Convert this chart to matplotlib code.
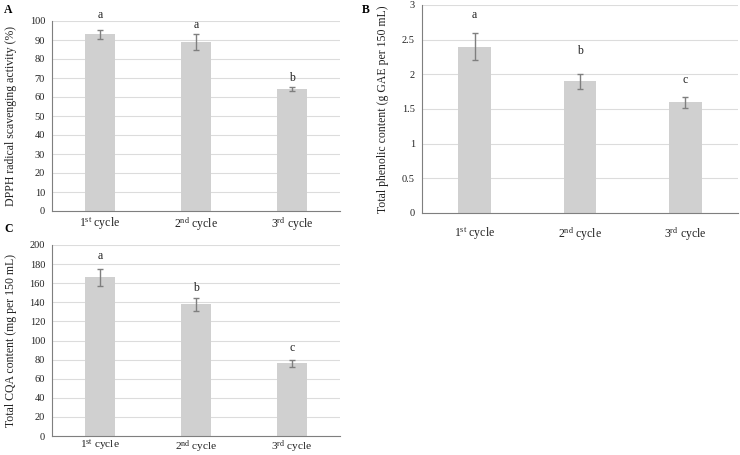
import matplotlib
matplotlib.use("Agg")
import matplotlib.pyplot as plt
import numpy as np

plt.rcParams['font.family'] = ['Liberation Serif', 'DejaVu Serif']
plt.rcParams['mathtext.fontset'] = 'custom'
plt.rcParams['mathtext.rm'] = 'Liberation Serif'
plt.rcParams['mathtext.it'] = 'Liberation Serif:italic'
plt.rcParams['mathtext.bf'] = 'Liberation Serif:bold'

cycles_num = ["1", "2", "3"]
cycles_sup = ["st", "nd", "rd"]
x_labels = [rf"{n}$^{{\mathrm{{{s}}}}}$ cycle" for n, s in zip(cycles_num, cycles_sup)]

dpph = [93, 89, 64]
dpph_err = [2.5, 4, 1]
dpph_letters = ["a", "a", "b"]
dpph_letter_y = [103, 98, 70]

phen = [2.4, 1.9, 1.6]
phen_err = [0.2, 0.11, 0.08]
phen_letters = ["a", "b", "c"]
phen_letter_y = [2.86, 2.33, 1.92]

cqa = [166, 138, 76]
cqa_err = [8.5, 7, 3.5]
cqa_letters = ["a", "b", "c"]
cqa_letter_y = [189, 155, 92]

W, H = 740, 455
fig = plt.figure(figsize=(W/100, H/100), dpi=100)

def px_axes(l, t, r, b):
    return fig.add_axes([l/W, 1 - b/H, (r-l)/W, (b-t)/H])

def panel(ax, vals, errs, letters, letter_y, ymax, ystep, ylabel, fmt, xpad, xsize):
    x = np.arange(len(vals))
    ax.bar(x, vals, width=0.31, color='#d0d0d0', zorder=2)
    ax.errorbar(x, vals, yerr=errs, fmt='none', ecolor='#7f7f7f', elinewidth=1,
                capsize=2.5, capthick=1, zorder=3)
    for xi, l, ly in zip(x, letters, letter_y):
        ax.text(xi, ly, l, ha='center', va='center', fontsize=8.5, color='#222222')
    ax.set_xlim(-0.5, len(vals) - 0.5)
    ax.set_ylim(0, ymax)
    ticks = np.arange(0, ymax + ystep/2, ystep)
    ax.set_yticks(ticks)
    ax.set_yticklabels([fmt(t) for t in ticks])
    ax.set_xticks(x)
    ax.set_xticklabels(x_labels)
    ax.tick_params(axis='y', length=0, labelsize=7.5, colors='#222222', pad=5)
    ax.tick_params(axis='x', length=0, labelsize=xsize, colors='#222222', pad=xpad)
    ax.grid(axis='y', color='#dcdcdc', linewidth=0.8, zorder=0)
    ax.set_axisbelow(True)
    for s in ['top', 'right']:
        ax.spines[s].set_visible(False)
    ax.spines['left'].set_color('#7f7f7f')
    ax.spines['bottom'].set_color('#7f7f7f')
    ax.set_ylabel(ylabel, fontsize=8.5, color='#222222')

axA = px_axes(52, 21, 340, 211)
panel(axA, dpph, dpph_err, dpph_letters, dpph_letter_y, 100, 10,
      "DPPH radical scavenging activity (%)", lambda t: f"{int(t)}", 3, 8.5)
axA.yaxis.set_label_coords(-0.12, 0.5)

axB = px_axes(422, 5, 738, 213)
panel(axB, phen, phen_err, phen_letters, phen_letter_y, 3, 0.5,
      "Total phenolic content (g GAE per 150 mL)", lambda t: f"{t:g}", 9, 8.5)
axB.yaxis.set_label_coords(-0.105, 0.5)

axC = px_axes(52, 245, 340, 436)
panel(axC, cqa, cqa_err, cqa_letters, cqa_letter_y, 200, 20,
      "Total CQA content (mg per 150 mL)", lambda t: f"{int(t)}", 1.5, 8.2)
axC.yaxis.set_label_coords(-0.12, 0.5)

fig.text(4/W, 1 - 10/H, "A", fontsize=8.5, fontweight='bold', va='center', ha='left')
fig.text(362/W, 1 - 10/H, "B", fontsize=8.5, fontweight='bold', va='center', ha='left')
fig.text(4/W, 1 - 229/H, "C", fontsize=8.5, fontweight='bold', va='center', ha='left')

fig.savefig("out.png", dpi=100, facecolor='white')
